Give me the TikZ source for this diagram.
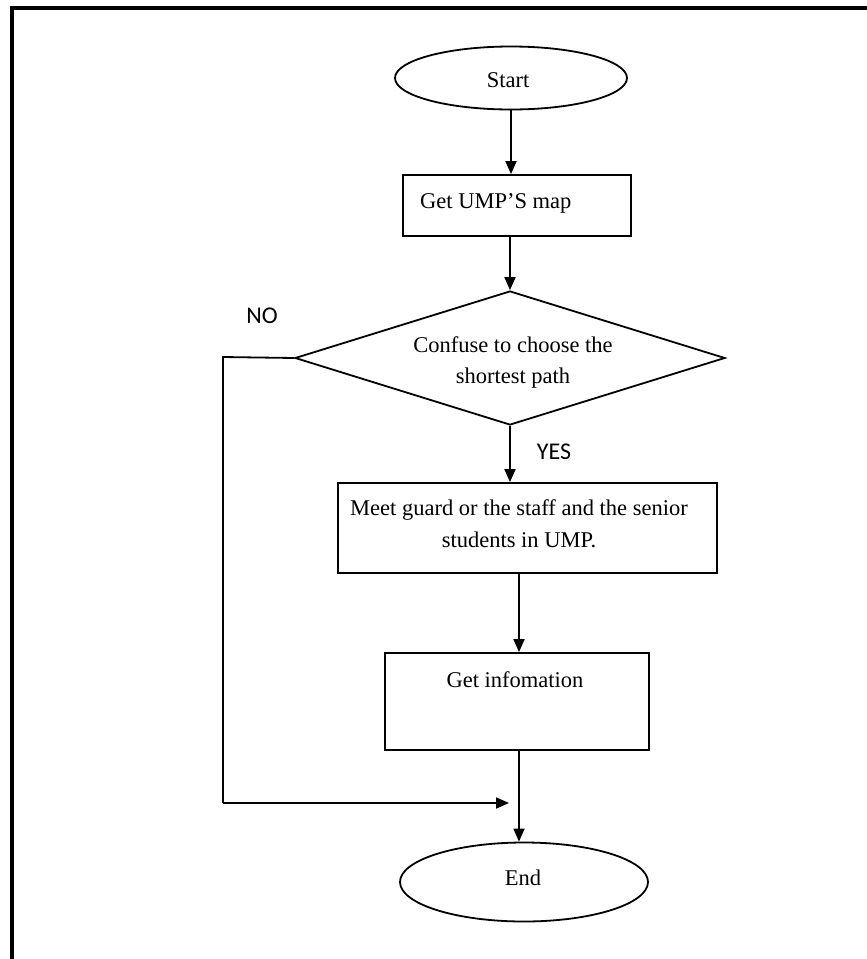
\documentclass[tikz,border=0pt]{standalone}
\usepackage{fontspec}
\setmainfont{Liberation Serif}
\newfontfamily\calibrifont{Carlito}
\usetikzlibrary{shapes.geometric,arrows.meta}
\tikzset{
  flow/.style={line width=1.8pt},
  arr/.style={flow,-{Triangle[length=13pt,width=11pt]}},
  term/.style={draw,flow,ellipse,inner sep=0pt,font=\fontsize{22.5}{27}\selectfont},
  procbox/.style={draw,flow,rectangle,inner sep=0pt},
  boxtext/.style={inner sep=0pt,align=center,font=\fontsize{22.5}{32}\selectfont},
  decision/.style={draw,flow,diamond,inner sep=0pt},
  yesno/.style={inner sep=0pt,font=\calibrifont\fontsize{24}{28}\selectfont}
}
\begin{document}
\begin{tikzpicture}[x={(1pt,0)},y={(0,-1pt)}]
\useasboundingbox (0,0) rectangle (867,959);
% frame
\draw[line width=3.5pt] (12,959) -- (12,8) -- (867,8);
% nodes
\node[term,minimum width=232pt,minimum height=63pt] (start) at (511,78) {};
\node[boxtext] (starttxt) at (508,80) {Start};
\node[procbox,minimum width=228pt,minimum height=61pt] (map) at (517,205.5) {};
\node[boxtext,anchor=west] (maptxt) at (420,203) {Get UMP'S map};
\node[decision,minimum width=430pt,minimum height=134pt] (dec) at (510,358) {};
\node[boxtext,font=\fontsize{22.5}{31}\selectfont] (dectxt) at (513,362) {Confuse to choose the\\shortest path};
\node[yesno] (no) at (262,316) {NO};
\node[yesno] (yes) at (554,452) {YES};
\node[procbox,minimum width=379pt,minimum height=90pt] (meet) at (527.5,528) {};
\node[boxtext] (meettxt) at (519,524) {Meet guard or the staff and the senior\\students in UMP.};
\node[procbox,minimum width=264pt,minimum height=97pt] (info) at (517,701.5) {};
\node[boxtext] (infotxt) at (515,680) {Get infomation};
\node[term,minimum width=248pt,minimum height=79pt] (end) at (524,882) {};
\node[boxtext] (endtxt) at (523,878) {End};
% connectors
\draw[arr] (start.south) -- (start.south |- map.north);
\draw[arr] (dec.north |- map.south) -- (dec.north);
\draw[arr] (dec.south) -- (dec.south |- meet.north);
\coordinate (mb) at (519,573);
\draw[arr] (mb) -- (mb |- info.north);
\draw[arr] (mb |- info.south) -- (mb |- end.north);
\coordinate (nocorner) at (223,357);
\coordinate (nolow) at (223,803);
\coordinate (noend) at (509,803);
\draw[flow] (dec.west) -- (nocorner) -- (nolow);
\draw[arr] (nolow) -- (noend);
\end{tikzpicture}
\end{document}
